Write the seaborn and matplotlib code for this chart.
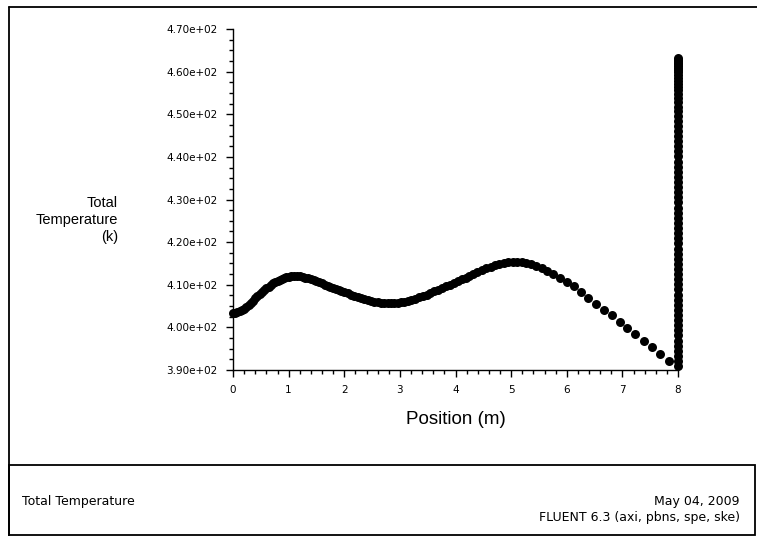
import matplotlib
matplotlib.use("Agg")
import matplotlib.pyplot as plt
import seaborn as sns
import pandas as pd
from matplotlib.ticker import MultipleLocator, FuncFormatter
from matplotlib.lines import Line2D
from matplotlib.patches import Rectangle

# ---- data ----
position_m = [
    0.00, 0.04, 0.08, 0.12, 0.16, 0.20, 0.24, 0.28, 0.32, 0.36, 0.40, 0.44, 0.48,
    0.52, 0.56, 0.60, 0.64, 0.68, 0.72, 0.76, 0.80, 0.84, 0.88, 0.92, 0.96, 1.00,
    1.05, 1.10, 1.15, 1.20, 1.25, 1.30, 1.35, 1.40, 1.45, 1.50, 1.55, 1.60, 1.65,
    1.70, 1.75, 1.80, 1.85, 1.90, 1.95, 2.00,
    2.06, 2.12, 2.18, 2.24, 2.30, 2.36, 2.42, 2.48, 2.54, 2.60, 2.66, 2.72, 2.78,
    2.84, 2.90, 2.96, 3.02, 3.08, 3.14, 3.20,
    3.27, 3.34, 3.41, 3.48, 3.55, 3.62, 3.69, 3.76, 3.83, 3.90, 3.97, 4.04, 4.11,
    4.18, 4.25, 4.32, 4.39,
    4.47, 4.55, 4.63, 4.71, 4.79, 4.87, 4.95, 5.03, 5.11, 5.19, 5.27, 5.35,
    5.45, 5.55, 5.65, 5.76, 5.87,
    6.00, 6.13, 6.26, 6.39, 6.53, 6.67, 6.81, 6.95, 7.09, 7.23, 7.38, 7.53, 7.68, 7.83,
]
temperature_k = [
    403.3, 403.4, 403.55, 403.8, 404.1, 404.4, 404.8, 405.2, 405.7, 406.2, 406.8, 407.3, 407.8,
    408.3, 408.7, 409.2, 409.55, 409.95, 410.3, 410.6, 410.9, 411.15, 411.4, 411.6, 411.75, 411.9,
    411.97, 412.0, 412.0, 411.95, 411.85, 411.7, 411.5, 411.3, 411.05, 410.8, 410.55, 410.3, 410.05,
    409.8, 409.55, 409.3, 409.05, 408.8, 408.55, 408.3,
    408.0, 407.7, 407.45, 407.15, 406.9, 406.65, 406.4, 406.2, 406.0, 405.9, 405.78, 405.7, 405.65,
    405.65, 405.7, 405.8, 405.9, 406.05, 406.25, 406.45,
    406.75, 407.05, 407.35, 407.7, 408.05, 408.45, 408.85, 409.25, 409.6, 410.0, 410.4, 410.85, 411.25,
    411.7, 412.1, 412.5, 412.95,
    413.4, 413.85, 414.25, 414.65, 414.95, 415.2, 415.35, 415.4, 415.4, 415.28, 415.1, 414.85,
    414.45, 413.9, 413.25, 412.5, 411.7,
    410.7, 409.6, 408.3, 407.0, 405.6, 404.1, 402.85, 401.2, 399.8, 398.35, 396.85, 395.3, 393.75, 392.2,
]
outlet_position_m = 8.0
outlet_temperature_k = [
    390.9, 392.1, 393.3, 394.5, 395.7, 396.9, 398.1, 399.3, 400.5, 401.7, 402.9, 404.1,
    405.3, 406.5, 407.7, 408.9, 410.1, 411.3, 412.5, 413.7, 414.9, 416.1, 417.3, 418.5,
    419.7, 420.9, 422.1, 423.3, 424.5, 425.7, 426.9, 428.1, 429.3, 430.5, 431.7, 432.9,
    434.1, 435.3, 436.5, 437.7, 438.9, 440.1, 441.3, 442.5, 443.7, 444.9, 446.1, 447.3,
    448.5, 449.6, 450.7, 451.8, 452.8, 453.8, 454.7, 455.6, 456.4, 457.2, 457.9, 458.6,
    459.2, 459.8, 460.3, 460.8, 461.3, 461.7, 462.1, 462.5, 462.8, 463.1,
]
x_ticks = [0, 1, 2, 3, 4, 5, 6, 7, 8]
y_ticks = [390, 400, 410, 420, 430, 440, 450, 460, 470]

df = pd.DataFrame({
    "Position (m)": position_m + [outlet_position_m] * len(outlet_temperature_k),
    "Total Temperature (k)": temperature_k + outlet_temperature_k,
})

# ---- plot ----
sns.set_theme(style="white")
plt.rcParams["font.family"] = ["Liberation Sans", "DejaVu Sans"]

W, H = 757, 536
fig = plt.figure(figsize=(W / 100, H / 100), dpi=100)
ax = fig.add_axes([233 / W, 1 - 370 / H, (678 - 233) / W, (370 - 29) / H])

sns.scatterplot(data=df, x="Position (m)", y="Total Temperature (k)", ax=ax,
                color="black", s=42, linewidth=0, edgecolor="black", clip_on=False,
                legend=False)

ax.set_xlim(0, 8)
ax.set_ylim(390, 470)
ax.set_xticks(x_ticks)
ax.set_yticks(y_ticks)
ax.xaxis.set_minor_locator(MultipleLocator(0.2))
ax.yaxis.set_minor_locator(MultipleLocator(2.5))
ax.yaxis.set_major_formatter(FuncFormatter(lambda v, p: "%.2e" % v))

for side in ["top", "right"]:
    ax.spines[side].set_visible(False)
for side in ["left", "bottom"]:
    ax.spines[side].set_color("black")
    ax.spines[side].set_linewidth(1.0)

ax.tick_params(axis="both", which="major", direction="out", length=5, width=1,
               color="black", labelsize=7.5, labelcolor="black")
ax.tick_params(axis="both", which="minor", direction="out", length=3, width=1, color="black")
ax.tick_params(axis="y", which="major", pad=6)
ax.tick_params(axis="x", which="major", pad=6)
ax.tick_params(axis="x", which="both", bottom=True)
ax.tick_params(axis="y", which="both", left=True)
for lab in ax.get_xticklabels() + ax.get_yticklabels():
    lab.set_family("DejaVu Sans")

ax.set_xlabel("Position (m)", fontsize=13.5, color="black")
ax.xaxis.set_label_coords(0.5, -0.144)
ax.xaxis.label.set_va("center")

ax.set_ylabel("Total\nTemperature\n(k)", fontsize=10.5, color="black", rotation=0,
              ha="right", va="center", multialignment="right", linespacing=1.3)
ax.yaxis.set_label_coords((118 - 233) / 445, (370 - 220) / 341)

# frame lines and footer box
lw = 1.3
fig.add_artist(Line2D([9 / W, 1.0], [1 - 7 / H, 1 - 7 / H], color="black", lw=lw))
fig.add_artist(Line2D([9 / W, 9 / W], [0, 1 - 7 / H], color="black", lw=lw))
fig.add_artist(Rectangle((9 / W, 1 / H), (755 - 9) / W, (535 - 465) / H,
                         fill=False, edgecolor="black", lw=lw, transform=fig.transFigure))

foot = dict(fontsize=9, color="black", va="center", family="DejaVu Sans")
fig.text(22 / W, 1 - 502 / H, "Total Temperature", ha="left", **foot)
fig.text(740 / W, 1 - 502 / H, "May 04, 2009", ha="right", **foot)
fig.text(740 / W, 1 - 518 / H, "FLUENT 6.3 (axi, pbns, spe, ske)", ha="right", **foot)

fig.savefig("out.png", dpi=100, facecolor="white")
